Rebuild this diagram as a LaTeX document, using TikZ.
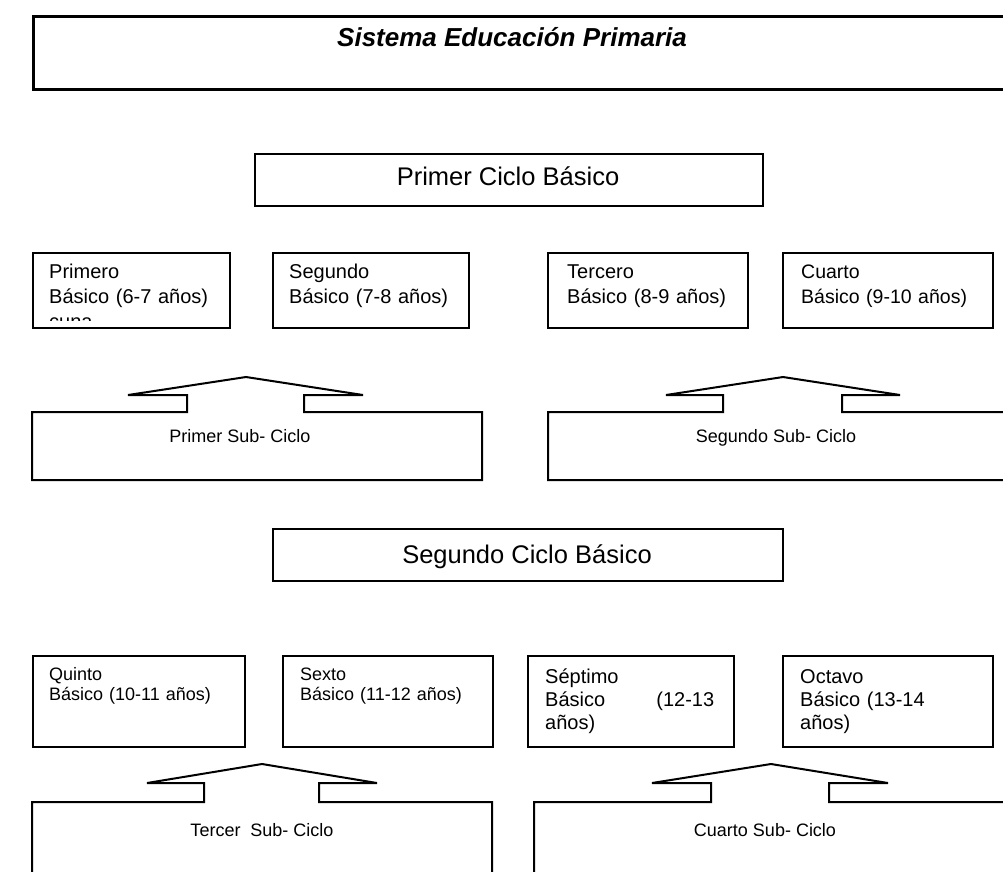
\documentclass[tikz,border=0pt]{standalone}
\usepackage{fontspec}
\setmainfont{Liberation Sans}
\begin{document}
\begin{tikzpicture}[x=1pt,y=-1pt,
  frame/.style={draw=black,line width=2pt,inner sep=0pt,anchor=north west},
  callout/.style={draw=black,line width=2pt,line join=miter},
  txt/.style={inner sep=0pt,anchor=base west,text width=190pt,align=left},
  gradeA/.style={txt,font=\fontsize{20}{25}\selectfont},
  gradeB/.style={txt,font=\fontsize{18}{20}\selectfont},
  gradeC/.style={inner sep=0pt,anchor=base west,text width=169pt,font=\fontsize{20}{23}\selectfont},
  cyclelbl/.style={inner sep=0pt,anchor=base,font=\fontsize{25.5}{30}\selectfont},
  sublbl/.style={inner sep=0pt,anchor=base,font=\fontsize{18}{22}\selectfont}]
\fill[white] (0,0) rectangle (1003,871);
\useasboundingbox (0,0) rectangle (1003,871);

% title banner
\node (sistema) [frame,line width=2.8pt,minimum width=990pt,minimum height=73pt] at (32,15) {};
\node (sistemat) [inner sep=0pt,anchor=base west,font=\fontsize{26}{30}\selectfont\bfseries\itshape] at (337,46) {Sistema Educación Primaria};

% first basic cycle
\node (ciclo1) [frame,minimum width=508pt,minimum height=52pt] at (254,153) {};
\node (ciclo1t) [cyclelbl] at (508,185) {Primer Ciclo Básico};

\node (g1) [frame,minimum width=197pt,minimum height=75pt] at (32,252) {};
\node (g2) [frame,minimum width=196pt,minimum height=75pt] at (272,252) {};
\node (g3) [frame,minimum width=200pt,minimum height=75pt] at (547,252) {};
\node (g4) [frame,minimum width=210pt,minimum height=75pt] at (782,252) {};
\begin{scope}
  \clip (32,252) rectangle (229,320);
  \node (g1t) [gradeA] at (49,278) {Primero\\Básico (6-7 años)\\cuna};
\end{scope}
\node (g2t) [gradeA] at (289,278) {Segundo\\Básico (7-8 años)};
\node (g3t) [gradeA] at (567,278) {Tercero\\Básico (8-9 años)};
\node (g4t) [gradeA,font=\fontsize{19.5}{25}\selectfont] at (801,278) {Cuarto\\Básico (9-10 años)};

% sub-cycles of the first cycle
\draw[callout] (32,480) -- (32,412) -- (187,412) -- (187,395) -- (128,395) -- (246,377)
  -- (363,395) -- (304,395) -- (304,412) -- (482,412) -- (482,480) -- cycle;
\node (sub1) [sublbl] at (240,442) {Primer Sub- Ciclo};
\draw[callout] (1010,480) -- (548,480) -- (548,412) -- (723,412) -- (723,395) -- (666,395)
  -- (783,377) -- (900,395) -- (842,395) -- (842,412) -- (1010,412);
\node (sub2) [sublbl] at (776,442) {Segundo Sub- Ciclo};

% second basic cycle
\node (ciclo2) [frame,minimum width=510pt,minimum height=52pt] at (272,528) {};
\node (ciclo2t) [cyclelbl] at (527,563) {Segundo Ciclo Básico};

\node (g5) [frame,minimum width=212pt,minimum height=91pt] at (32,655) {};
\node (g6) [frame,minimum width=210pt,minimum height=91pt] at (282,655) {};
\node (g7) [frame,minimum width=206pt,minimum height=91pt] at (527,655) {};
\node (g8) [frame,minimum width=210pt,minimum height=91pt] at (782,655) {};
\node (g5t) [gradeB] at (49,680) {Quinto\\Básico (10-11 años)};
\node (g6t) [gradeB] at (300,680) {Sexto\\Básico (11-12 años)};
\node (g7t) [gradeC,align=justify] at (545,683) {Séptimo\\Básico (12-13 años)};
\node (g8t) [gradeC,align=left] at (800,683) {Octavo\\Básico (13-14 años)};

% sub-cycles of the second cycle
\draw[callout] (32,880) -- (32,802) -- (204,802) -- (204,783) -- (147,783) -- (262,764)
  -- (377,783) -- (319,783) -- (319,802) -- (492,802) -- (492,880);
\node (sub3) [sublbl] at (262,836) {Tercer\ \ Sub- Ciclo};
\draw[callout] (534,880) -- (534,802) -- (711,802) -- (711,783) -- (652,783) -- (771,764)
  -- (888,783) -- (829,783) -- (829,802) -- (1010,802);
\node (sub4) [sublbl] at (765,836) {Cuarto Sub- Ciclo};
\end{tikzpicture}
\end{document}
